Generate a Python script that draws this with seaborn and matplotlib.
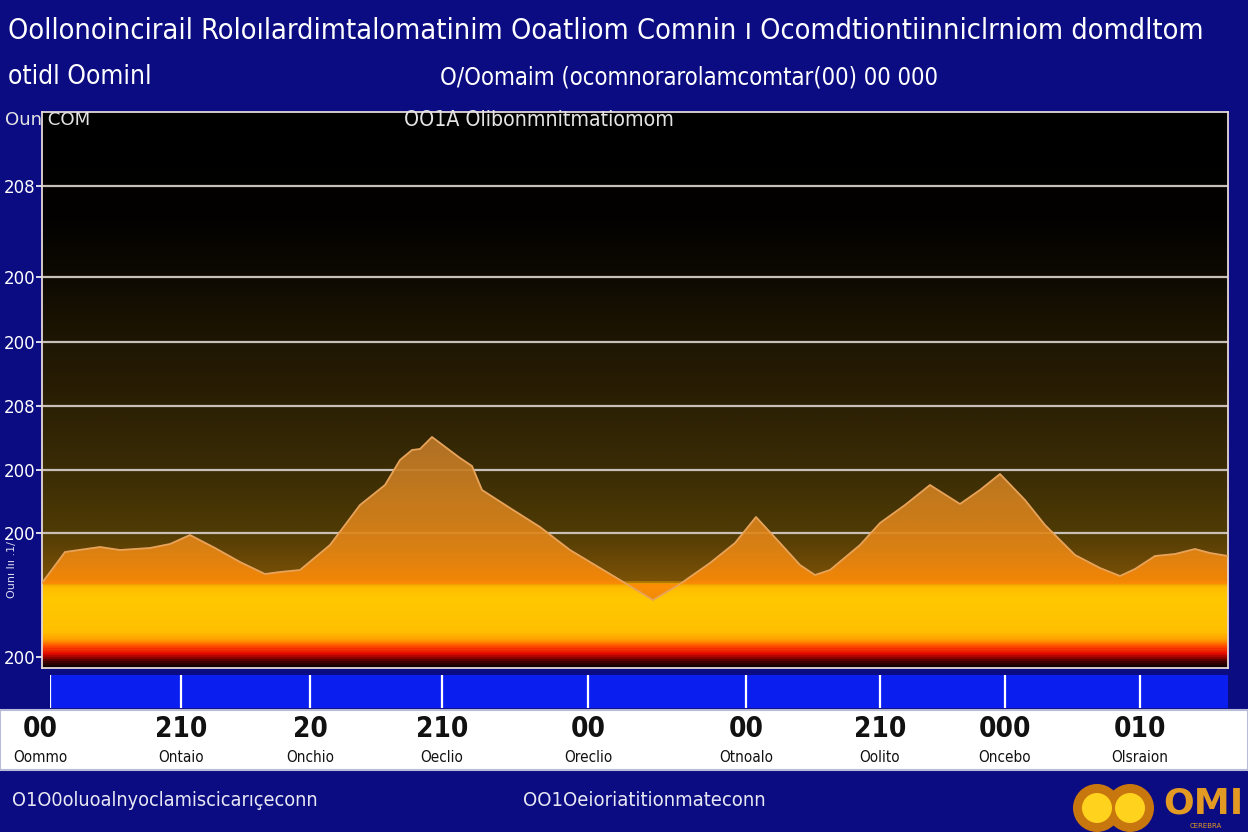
import numpy as np
import pandas as pd
import matplotlib
matplotlib.use("Agg")
import matplotlib.pyplot as plt
import matplotlib.font_manager as fm
from matplotlib.colors import LinearSegmentedColormap
from matplotlib.patches import Circle, Rectangle
from matplotlib.transforms import IdentityTransform
import seaborn as sns

# ---------------- data ----------------
title_text = "Oollonoincirail Roloılardimtalomatinim Ooatliom Comnin ı Ocomdtiontiinniclrniom domdltom"
subtitle_left = "otidl Oominl"
subtitle_right = "O/Oomaim (ocomnorarolamcomtar(00) 00 000"
corner_label = "Oun COM"
inner_label = "OO1A Olibonmnitmatiomom"
side_label = "Ounı lıı .1/"
footer_left = "O1O0oluoalnyoclamiscicarıçeconn"
footer_right = "OO1Oeioriatitionmateconn"

x_vals = [0, 23, 58, 78, 108, 128, 148, 173, 198, 223, 238, 258, 288, 318, 343, 358, 370, 378,
          390, 418, 430, 440, 468, 498, 528, 558, 583, 611, 638, 668, 693, 714, 738, 758, 773,
          788, 818, 838, 863, 888, 918, 938, 958, 983, 1003, 1033, 1058, 1078, 1093, 1113, 1133,
          1153, 1168, 1186]
y_vals = [85, 116, 121, 118, 120, 124, 133, 120, 106, 94, 96, 98, 123, 163, 183, 208, 218, 219,
          231, 210, 202, 178, 160, 141, 118, 100, 85, 68, 84, 105, 125, 151, 125, 103, 93,
          98, 123, 145, 163, 183, 164, 178, 194, 168, 143, 113, 100, 92, 99, 112, 114,
          119, 115, 112]

y_ticks = [482, 391, 326, 262, 198, 135, 11]
y_ticklabels = ["208", "200", "200", "208", "200", "200", "200"]

x_ticks = [8, 139, 268, 400, 546, 704, 838, 963, 1098]
x_ticklabels = ["00", "210", "20", "210", "00", "00", "210", "000", "010"]
x_sublabels = ["Oommo", "Ontaio", "Onchio", "Oeclio", "Oreclio", "Otnoalo", "Oolito", "Oncebo", "Olsraion"]

df = pd.DataFrame({"x": x_vals, "y": y_vals})

# ---------------- style ----------------
sns.set_theme(style="dark")
names = {f.name for f in fm.fontManager.ttflist}
NARROW = "Liberation Sans Narrow" if "Liberation Sans Narrow" in names else "DejaVu Sans"
plt.rcParams["font.family"] = [NARROW, "DejaVu Sans"]

W, H = 1248, 832
NAVY = "#0b0c82"
fig = plt.figure(figsize=(W / 100, H / 100), dpi=100, facecolor=NAVY)


def fx(px):
    return px / W


def fy(py):
    return 1 - py / H


# main axes
ax = fig.add_axes([fx(42), fy(668), fx(1186), (668 - 112) / H])
ax.set_xlim(0, 1186)
ax.set_ylim(0, 556)

stops = [
    (0, "#120000"), (6, "#500000"), (13, "#e00800"), (20, "#ff4800"), (27, "#ffa000"),
    (36, "#ffc000"), (68, "#ffc800"), (80, "#ffbc00"), (83, "#f0a000"), (87, "#7a5206"),
    (108, "#6a4806"), (138, "#4e3a04"), (198, "#3a2c04"), (262, "#2c2004"),
    (328, "#1e1603"), (391, "#0e0a02"), (448, "#030200"), (556, "#000000"),
]
cmap = LinearSegmentedColormap.from_list("bg", [(h / 556, c) for h, c in stops])
grad = np.linspace(0, 1, 800).reshape(-1, 1)
ax.imshow(grad, cmap=cmap, origin="lower", extent=[0, 1186, 0, 556], aspect="auto", zorder=0)

# area with vertical gradient fill
poly = ax.fill_between(df["x"], 84, df["y"], color="none", lw=0, zorder=2)
fill_stops = [(0, "#f07a00"), (60, "#e8820a"), (84, "#ff8c06"), (120, "#e58616"),
              (170, "#cf8020"), (240, "#b8762a"), (556, "#a06a28")]
fcmap = LinearSegmentedColormap.from_list("fill", [(h / 556, c) for h, c in fill_stops])
im = ax.imshow(grad, cmap=fcmap, origin="lower", extent=[0, 1186, 0, 556], aspect="auto",
               zorder=2, alpha=0.92)
im.set_clip_path(poly.get_paths()[0], transform=ax.transData)

# grid
for t in y_ticks[:-1]:
    ax.axhline(t, color="#c8c0b8", lw=1.6, zorder=1.5)

sns.lineplot(data=df, x="x", y="y", ax=ax, color="#e8a35a", lw=1.3, zorder=3)

ax.set_xlim(0, 1186)
ax.set_ylim(0, 556)
ax.set_xlabel("")
ax.set_ylabel("")
ax.set_xticks([])
ax.set_yticks(y_ticks, y_ticklabels)
ax.tick_params(axis="y", colors="white", labelcolor="white", length=4, width=1.2,
               labelsize=12, pad=1, left=True)
for s in ax.spines.values():
    s.set_color("#e6d8d8")
    s.set_linewidth(1.3)
ax.grid(False)

# blue band below axes
axb = fig.add_axes([fx(50), fy(708), fx(1178), (708 - 675) / H])
axb.set_facecolor("#0a1ef0")
axb.set_xlim(8, 1186)
axb.set_ylim(0, 1)
for t in x_ticks:
    axb.axvline(t, color="white", lw=1.6)
axb.set_xticks([])
axb.set_yticks([])
for s in axb.spines.values():
    s.set_visible(False)

# white label strip
fig.add_artist(Rectangle((0, fy(770)), 1, (770 - 710) / H, transform=fig.transFigure,
                         facecolor="white", edgecolor="#b8bcd8", lw=1.5, zorder=0))

for i, (t, lab, sub) in enumerate(zip(x_ticks, x_ticklabels, x_sublabels)):
    xp = 42 + t if i else 40
    fig.text(fx(xp), fy(729), lab, ha="center", va="center", fontsize=20, fontweight="bold",
             fontstretch="condensed", color="#111111")
    fig.text(fx(xp), fy(757), sub, ha="center", va="center", fontsize=11,
             fontstretch="condensed", color="#111111")

renderer = fig.canvas.get_renderer()


def fit(t, width_px):
    w = t.get_window_extent(renderer).width
    if w > 0:
        t.set_fontsize(t.get_fontsize() * width_px / w)


t1 = fig.text(fx(8), fy(31), title_text, ha="left", va="center", color="white", fontsize=20,
              fontstretch="condensed")
fit(t1, 1192)
t2 = fig.text(fx(8), fy(77), subtitle_left, ha="left", va="center", color="white", fontsize=16,
              fontstretch="condensed")
fit(t2, 144)
t3 = fig.text(fx(440), fy(77), subtitle_right, ha="left", va="center", color="white", fontsize=16,
              fontstretch="condensed")
fit(t3, 505)
t4 = fig.text(fx(5), fy(120), corner_label, ha="left", va="center", color="#e4e4e4", fontsize=12, zorder=5)
fit(t4, 85)
t5 = fig.text(fx(404), fy(120), inner_label, ha="left", va="center", color="#e4e4e4", fontsize=12,
              zorder=5, fontstretch="condensed")
fit(t5, 268)
ts = fig.text(fx(12), fy(570), side_label, rotation=90, ha="center", va="center", color="#dcdcf0",
              fontsize=8)
t6 = fig.text(fx(12), fy(801), footer_left, ha="left", va="center", color="#e8e8f4", fontsize=13,
              fontstretch="condensed")
fit(t6, 306)
t7 = fig.text(fx(523), fy(801), footer_right, ha="left", va="center", color="#e8e8f4", fontsize=13,
              fontstretch="condensed")
fit(t7, 242)

# logo
for cx in (1097, 1130):
    fig.add_artist(Circle((cx, H - 808), 24, transform=IdentityTransform(), facecolor="#c8760e",
                          edgecolor="none", zorder=3))
for cx in (1097, 1130):
    fig.add_artist(Circle((cx, H - 808), 15, transform=IdentityTransform(), facecolor="#ffd21e",
                          edgecolor="none", zorder=4))
fig.text(fx(1163), fy(804), "OMI", ha="left", va="center", color="#e39a22", fontsize=26,
         fontweight="bold")
fig.text(fx(1190), fy(826), "CEREBRA", ha="left", va="center", color="#e39a22", fontsize=5)

fig.savefig("out.png", dpi=100, facecolor=NAVY)
